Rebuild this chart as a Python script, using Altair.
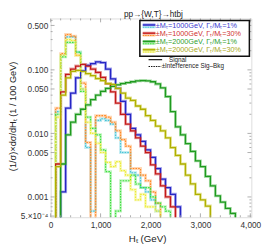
import altair as alt
import pandas as pd

# ---------------- data (normalised distributions, 100 GeV bins starting at HT = 0) ----------------
BIN_WIDTH = 100

sig_m1000_w1 = [0, 0, 0.0012, 0.025, 0.043, 0.075, 0.096, 0.118, 0.125, 0.133, 0.13, 0.103, 0.072,
                0.051, 0.032, 0.02, 0.012, 0.0095, 0.0075, 0.0055, 0.0042, 0.0028, 0.0019, 0.0014,
                0.0011, 0.0007]
sig_m1000_w30 = [0, 0.0033, 0.045, 0.085, 0.103, 0.115, 0.122, 0.115, 0.103, 0.091, 0.076, 0.061,
                 0.045, 0.030, 0.02, 0.014, 0.011, 0.0085, 0.0063, 0.005, 0.0032, 0.0023, 0.0015,
                 0.001, 0.0007]
sig_m2000_w1 = [0, 0, 0.0033, 0.0095, 0.015, 0.02, 0.024, 0.028, 0.034, 0.04, 0.046, 0.051, 0.055,
                0.058, 0.061, 0.063, 0.065, 0.067, 0.068, 0.067, 0.065, 0.06, 0.052, 0.038, 0.022,
                0.0127, 0.0095, 0.0069, 0.0052, 0.0037, 0.003, 0.0021, 0.0015, 0.00104, 0.00083,
                0.00066, 0.00055]
sig_m2000_w30 = [0, 0.003, 0.04, 0.075, 0.095, 0.098, 0.095, 0.087, 0.081, 0.073, 0.068, 0.061,
                 0.059, 0.051, 0.043, 0.036, 0.033, 0.027, 0.024, 0.019, 0.016, 0.013, 0.011,
                 0.0085, 0.006, 0.0045, 0.0033, 0.0022, 0.0016, 0.0011, 0.0009, 0.00072]

int_m1000_w1 = [0, 0.022, 0.17, 0.33, 0.33, 0.19, 0.05, 0.006, 0.0006, 0.016, 0.017, 0.016, 0.014,
                0.0085, 0.005, 0.005, 0.0024, 0.0022, 0.0014, 0.0012, 0.0009, 0.0006]
int_m1000_w30 = [0, 0.025, 0.18, 0.36, 0.34, 0.17, 0.062, 0.0072, 0, 0.019, 0.019, 0.018, 0.015,
                 0.011, 0.008, 0.0063, 0.0028, 0.0028, 0.0022, 0.0018, 0.0012, 0.0008]
int_m2000_w1 = [0, 0.02, 0.16, 0.27, 0.27, 0.19, 0.046, 0.018, 0.012, 0.0095, 0.0055, 0.0025, 0,
                0.0006, 0.0018, 0.0018, 0.0022, 0.0016, 0.0014, 0.0014, 0.001, 0.0008, 0.0007,
                0.0006]
int_m2000_w30 = [0, 0.018, 0.17, 0.30, 0.29, 0.17, 0.05, 0.015, 0.01, 0.007, 0.005, 0.0035, 0.003,
                 0.0036, 0.0026, 0.0022, 0.0013, 0.0009, 0.0011, 0.0007, 0.0007, 0.0006]

series_names = ["s1000_1", "s1000_30", "s2000_1", "s2000_30",
                "i1000_1", "i1000_30", "i2000_1", "i2000_30"]
series_values = [sig_m1000_w1, sig_m1000_w30, sig_m2000_w1, sig_m2000_w30,
                 int_m1000_w1, int_m1000_w30, int_m2000_w1, int_m2000_w30]
series_kind = ["signal"] * 4 + ["interference"] * 4

legend_labels = ["\u00b1M\u209c=1000GeV, \u0393\u209c/M\u209c=1%",
                 "\u00b1M\u209c=1000GeV, \u0393\u209c/M\u209c=30%",
                 "\u00b1M\u209c=2000GeV, \u0393\u209c/M\u209c=1%",
                 "\u00b1M\u209c=2000GeV, \u0393\u209c/M\u209c=30%"]

y_tick_labels = {0.0005: "5.\u00d710\u207b\u2074", 0.001: "0.001", 0.005: "0.005", 0.01: "0.010",
                 0.05: "0.050", 0.1: "0.100", 0.5: "0.500"}
x_tick_values = [0, 1000, 2000, 3000, 4000]

# ---------------- styles ----------------
line_color = {"s1000_1": "#2626c4", "s1000_30": "#c41a1a", "s2000_1": "#1f9a1f", "s2000_30": "#b0b000",
              "i1000_1": "#48c4d6", "i1000_30": "#ff8a26", "i2000_1": "#3ee03e", "i2000_30": "#ecec34"}
band_color = {"s1000_1": "#8e8ee8", "s1000_30": "#e49090", "s2000_1": "#8cd28c", "s2000_30": "#dede7c",
              "i1000_1": "#aee6ee", "i1000_30": "#ffca9c", "i2000_1": "#b0f2b0", "i2000_30": "#f6f6a8"}
legend_text_color = ["#3a3ad0", "#d03030", "#2ea02e", "#a8a820"]
FLOOR = 1e-6
FONT = "Liberation Sans"
W, H = 207, 205

rows = []
for name, vals, kind in zip(series_names, series_values, series_kind):
    for i, v in enumerate(vals):
        rows.append({"series": name, "kind": kind, "ht": i * BIN_WIDTH, "v": v if v > 0 else FLOOR,
                     "lc": line_color[name], "bc": band_color[name]})
    rows.append({"series": name, "kind": kind, "ht": len(vals) * BIN_WIDTH, "v": FLOOR,
                 "lc": line_color[name], "bc": band_color[name]})
df = pd.DataFrame(rows)

xs = alt.Scale(domain=[0, 4020], nice=False, zero=False)
ys = alt.Scale(type="log", domain=[4.8e-4, 0.644], nice=False)
label_expr = " : ".join(
    [f"abs(datum.value - {k}) < {k*1e-3} ? '{v}'" for k, v in y_tick_labels.items()]) + " : ''"
X = alt.X("ht:Q", scale=xs, title=None,
          axis=alt.Axis(values=x_tick_values, ticks=False, domain=False, grid=False, labelPadding=4,
                        labelFontSize=8.5, labelFont=FONT, labelColor="#333333", labelFlush=False))
Y = alt.Y("v:Q", scale=ys, title=None,
          axis=alt.Axis(values=list(y_tick_labels.keys()), labelExpr=label_expr, ticks=False,
                        domain=False, grid=False, labelPadding=3, labelFontSize=8.5, labelFont=FONT,
                        labelColor="#333333"))

base = alt.Chart(df).encode(x=X, y=Y, detail="series:N")
band = base.mark_line(interpolate="step-after", clip=True, strokeWidth=3, opacity=0.75).encode(
    color=alt.Color("bc:N", scale=None))
dotted = base.transform_filter("datum.kind == 'interference'").mark_line(
    interpolate="step-after", clip=True, strokeWidth=1.2, strokeDash=[1.6, 1.2]).encode(
    color=alt.Color("lc:N", scale=None))
solid = base.transform_filter("datum.kind == 'signal'").mark_line(
    interpolate="step-after", clip=True, strokeWidth=1.3).encode(
    color=alt.Color("lc:N", scale=None))

# ---------------- inward frame ticks ----------------
ymajor = list(y_tick_labels.keys())
yminor = [m * 10 ** e for e in (-4, -3, -2, -1) for m in range(1, 10)
          if 4.8e-4 <= m * 10 ** e <= 0.644 and all(abs(m * 10 ** e - k) > 1e-9 for k in ymajor)]
ytick_df = pd.DataFrame({"v": ymajor + yminor, "len": [4] * len(ymajor) + [2] * len(yminor)})
xtick_df = pd.DataFrame({"ht": [t for t in range(0, 4001, 200)],
                         "len": [4 if t % 1000 == 0 else 2 for t in range(0, 4001, 200)]})
tick_color = "#999999"


def yticks(length, x0, sign):
    return alt.Chart(ytick_df).transform_filter(f"datum.len == {length}").mark_rule(
        color=tick_color, strokeWidth=0.8).encode(y=Y, x=alt.value(x0), x2=alt.value(x0 + sign * length))


def xticks(length, y0, sign):
    return alt.Chart(xtick_df).transform_filter(f"datum.len == {length}").mark_rule(
        color=tick_color, strokeWidth=0.8).encode(x=X, y=alt.value(y0), y2=alt.value(y0 + sign * length))


tick_layers = [yticks(4, 0, 1), yticks(2, 0, 1), yticks(4, W, -1), yticks(2, W, -1),
               xticks(4, H, -1), xticks(2, H, -1), xticks(4, 0, 1), xticks(2, 0, 1)]

# ---------------- annotations ----------------
one = pd.DataFrame({"a": [0]})


def text(s, x, y, size, color="#222222", angle=0, align="center", baseline="middle"):
    return alt.Chart(one).mark_text(text=s, font=FONT, fontSize=size, color=color, angle=angle,
                                    align=align, baseline=baseline).encode(
        x=alt.value(x), y=alt.value(y))


def rule(x1, x2, y, color, width, dash=None):
    kw = dict(color=color, strokeWidth=width)
    if dash:
        kw["strokeDash"] = dash
    return alt.Chart(one).mark_rule(**kw).encode(x=alt.value(x1), x2=alt.value(x2), y=alt.value(y))


annots = [
    text("pp\u2192{W,T}\u2192htbj", 106, -1.5, 8.5, baseline="alphabetic"),
    text("(1/\u03c3)\u00d7d\u03c3/dH\u209c  (1 / 100 GeV)", -39, 101, 9.5, angle=270),
    text("H\u209c (GeV)", 100, 228, 10),
]
box = alt.Chart(one).mark_rect(fill="white", stroke="#111111", strokeWidth=1.6).encode(
    x=alt.value(92), x2=alt.value(205), y=alt.value(2), y2=alt.value(39))
legend_layers = [box]
row_y = [7.5, 16, 24.5, 33]
for k in range(4):
    sname = series_names[k]
    iname = series_names[k + 4]
    legend_layers += [
        rule(95, 108, row_y[k] - 0.8, band_color[sname], 3),
        rule(95, 108, row_y[k] - 0.8, line_color[sname], 1.3),
        rule(95, 108, row_y[k] + 1.6, band_color[iname], 2),
        rule(95, 108, row_y[k] + 1.6, line_color[iname], 1.1, [1.5, 1]),
        text(legend_labels[k], 108.5, row_y[k], 7.5, color=legend_text_color[k], align="left"),
    ]
legend_layers += [
    rule(101, 115, 42.5, "#111111", 1.2),
    text("Signal", 122, 42.5, 6.5, align="left"),
    rule(101, 114, 49.5, "#111111", 1.1, [1.5, 1]),
    text("\u00b1Interference Sig\u2013Bkg", 114.5, 49.5, 6.5, align="left"),
]

chart = alt.layer(
    band, dotted, solid, *tick_layers, *annots, *legend_layers
).properties(
    width=W, height=H,
    padding={"left": 44, "top": 7, "right": 11, "bottom": 29},
    autosize=alt.AutoSizeParams(type="none"),
).configure_view(stroke="#a0a0a0", strokeWidth=1).configure(background="white")

chart.save("out.html", embed_options={"renderer": "svg", "actions": False})
